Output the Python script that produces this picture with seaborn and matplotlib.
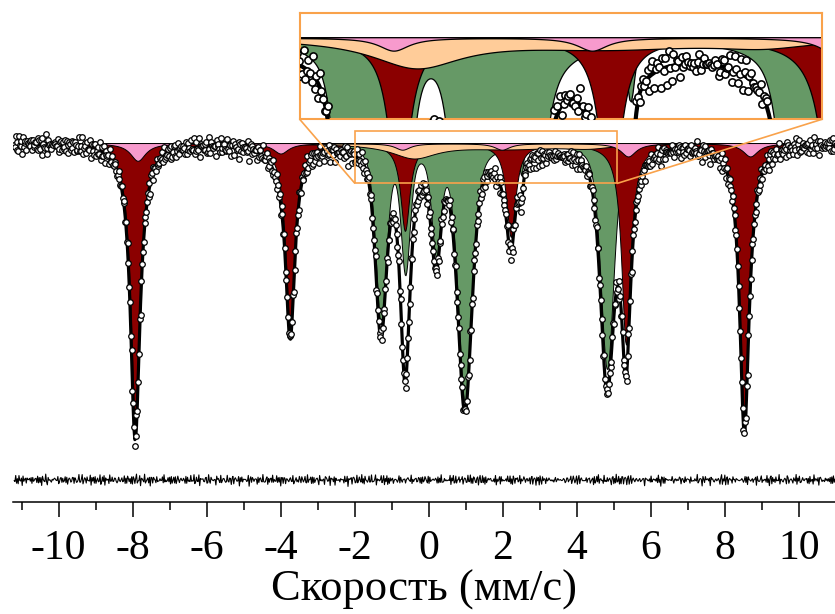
import numpy as np
import matplotlib
matplotlib.use("Agg")
import matplotlib.pyplot as plt
import seaborn as sns
from matplotlib.ticker import MultipleLocator
from mpl_toolkits.axes_grid1.inset_locator import mark_inset

# sub-spectra: line position (mm/s), depth (% of baseline), FWHM (mm/s)
red_pos = [-7.93, -3.74, -0.64, 2.22, 5.33, 8.53]
red_depth = [19.0, 12.8, 5.9, 6.3, 13.6, 18.9]
red_fwhm = [0.30, 0.30, 0.30, 0.30, 0.30, 0.30]

pink_pos = [-7.86, -4.00, -0.71, 1.98, 5.39, 8.69]
pink_depth = [1.20, 0.70, 0.44, 0.44, 0.90, 0.90]
pink_fwhm = [0.50, 0.50, 0.50, 0.50, 0.50, 0.50]

green_pos = [-1.29, -0.63, 0.20, 0.98, 2.50, 4.82]
green_depth = [12.0, 8.3, 6.85, 17.4, 1.9, 15.3]
green_fwhm = [0.35, 0.30, 0.30, 0.45, 0.12, 0.42]

peach_pos = [-0.40, 2.20, 4.30]
peach_depth = [0.95, 0.33, 0.25]
peach_fwhm = [1.50, 3.20, 1.60]

# scatter of the counts around the fit (units of 0.01 %), two interleaved patterns
noise_a = [12, -25, 31, -8, 3, -40, 22, 17, -14, 5, -29, 38, -3, -19, 26, -11, 9, -33, 15, 41,
           -22, 0, -6, 28, -37, 13, 20, -16, -2, 34, -27, 7, -12, 24, -35, 18, -5, 10, -21, 36,
           -9, -30, 14, 2, -18, 27, -41, 6, 19, -13, 32, -24, 11, -4, 23, -15, -34, 29, 1, -10, 16]
noise_b = [-18, 7, 25, -31, 14, -6, 33, -22, 2, 19, -38, 11, -13, 27, -3, -26, 16, 39, -10, -20,
           8, 30, -35, 4, 21, -15, -1, 36, -28, 13, -8, 24, -17, 6, -32, 28, 10, -24, 1, 37,
           -12, -29, 18, -5, 22, -39, 15, 3, -21, 26, -9, 34, -16, -2, 20, -30, 12, -7, 29, -19,
           5, -36, 17, 9, -25, 31, -11]

n_channels = 1024
v_range = (-11.2, 11.2)
resid_level = 77.15
resid_scale = 0.55

RED = '#8B0000'
GREEN = '#669966'
PINK = '#F79ACD'
PEACH = '#FFCC99'
ORANGE = '#F9A24B'


def absorption(v, pos, depth, fwhm, eta=1.0):
    # pseudo-Voigt lines
    out = np.zeros_like(v)
    for p, d, w in zip(pos, depth, fwhm):
        x = (v - p) / (w / 2)
        out += d * (eta / (1 + x ** 2) + (1 - eta) * np.exp(-np.log(2) * x ** 2))
    return out


v = np.linspace(v_range[0], v_range[1], n_channels)
red = 100 - absorption(v, red_pos, red_depth, red_fwhm)
pink = 100 - absorption(v, pink_pos, pink_depth, pink_fwhm)
green = 100 - absorption(v, green_pos, green_depth, green_fwhm, eta=0.5)
peach = 100 - absorption(v, peach_pos, peach_depth, peach_fwhm)
fit = red + pink + green + peach - 300

idx = np.arange(n_channels)
noise = (np.array(noise_a)[idx % len(noise_a)] + np.array(noise_b)[idx % len(noise_b)]) / 100
counts = fit + noise
resid = resid_level + resid_scale * noise

sns.set_theme(style='white')
plt.rcParams['font.family'] = ['Liberation Serif', 'DejaVu Serif']
plt.rcParams['axes.unicode_minus'] = False

fig = plt.figure(figsize=(8.35, 6.14), dpi=100)
ax = fig.add_axes([13 / 835, 112 / 614, 822 / 835, 502 / 614])
axins = fig.add_axes([299.7 / 835, (614 - 119.3) / 614, 522.3 / 835, 106 / 614])


def draw(a, k=1.0):
    for curve, col in [(green, GREEN), (red, RED), (peach, PEACH), (pink, PINK)]:
        a.fill_between(v, 100, curve, facecolor=col, edgecolor='black', linewidth=0.7 * k, zorder=2)
    sns.lineplot(x=v, y=fit, ax=a, color='black', linewidth=2.3 * k, errorbar=None, zorder=3)
    sns.scatterplot(x=v, y=counts, ax=a, s=16 * k * k, color='white', edgecolor='black',
                    linewidth=0.9 * k, zorder=4)


draw(ax)
sns.lineplot(x=v, y=resid, ax=ax, color='black', linewidth=0.8, errorbar=None)

ax.set_xlim(-11.23, 10.98)
ax.set_ylim(75.66, 109.7)
ax.set_yticks([])
ax.set_ylabel('')
ax.xaxis.set_major_locator(MultipleLocator(2))
ax.xaxis.set_minor_locator(MultipleLocator(1))
ax.tick_params(axis='x', which='both', bottom=True, direction='out', color='black', width=1.1)
ax.tick_params(axis='x', which='major', length=11, labelsize=30, pad=8.5, labelcolor='black')
ax.tick_params(axis='x', which='minor', length=5.5)
for s in ['top', 'left', 'right']:
    ax.spines[s].set_visible(False)
ax.spines['bottom'].set_color('black')
ax.spines['bottom'].set_linewidth(1.1)
ax.set_xlabel('Скорость (мм/с)', fontsize=32, labelpad=1.5, color='black')

draw(axins, k=1.3)
axins.set_xlim(-1.99, 5.09)
axins.set_ylim(97.26, 100.82)
axins.set_xticks([])
axins.set_yticks([])
axins.set_xlabel('')
axins.set_ylabel('')
axins.set_facecolor('white')
for s in axins.spines.values():
    s.set_visible(True)
    s.set_color(ORANGE)
    s.set_linewidth(1.5)

mark_inset(ax, axins, loc1=3, loc2=4, fc='none', ec=ORANGE, lw=1.2, zorder=6)

fig.savefig('out.png', dpi=100)
